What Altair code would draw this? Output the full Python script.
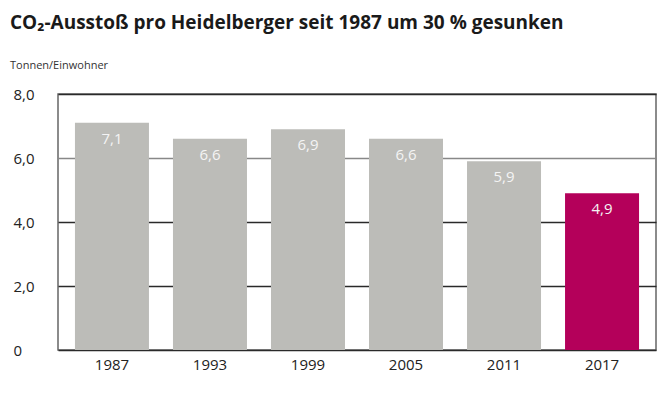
import altair as alt
import pandas as pd

years = ["1987", "1993", "1999", "2005", "2011", "2017"]
values = [7.1, 6.6, 6.9, 6.6, 5.9, 4.9]
labels = ["7,1", "6,6", "6,9", "6,6", "5,9", "4,9"]
highlight = [False, False, False, False, False, True]
y_ticks = [0, 2, 4, 6, 8]

df = pd.DataFrame({"year": years, "value": values, "label": labels, "hl": highlight})

FONT = "Open Sans"

x = alt.X("year:N", sort=years, title=None,
          scale=alt.Scale(paddingInner=0.245, paddingOuter=0.173),
          axis=alt.Axis(labelAngle=0, labelFontSize=15, labelColor="#222",
                        labelPadding=7, ticks=False, domain=False, labelFont=FONT))
y = alt.Y("value:Q", title=None, scale=alt.Scale(domain=[0, 8], nice=False),
          axis=alt.Axis(values=y_ticks, labelAlign="left", labelPadding=45,
                        labelFontSize=15, labelColor="#222", labelFont=FONT,
                        ticks=False, domain=False, labelBaseline="middle",
                        labelExpr="datum.value == 0 ? '0' : replace(format(datum.value, '.1f'), '.', ',')",
                        grid=True, gridWidth=1.3,
                        gridColor={"condition": {"test": "datum.value == 6", "value": "#888"}, "value": "#2a2a2a"}))

bars = alt.Chart(df).mark_bar().encode(
    x=x, y=y,
    color=alt.condition("datum.hl", alt.value("#B4005A"), alt.value("#BCBCB8")),
)

text = alt.Chart(df).mark_text(baseline="top", dy=9, fontSize=15, font=FONT,
                               color="#f4f4f4").encode(
    x=alt.X("year:N", sort=years),
    y=alt.Y("value:Q"),
    text="label:N",
)

chart = alt.layer(bars, text).properties(
    width=598, height=256,
    autosize=alt.AutoSizeParams(type="none"),
    padding={"left": 50, "top": 86, "right": 1, "bottom": 30},
    title=alt.TitleParams(
        text="CO₂-Ausstoß pro Heidelberger seit 1987 um 30 % gesunken",
        subtitle="Tonnen/Einwohner",
        anchor="start", frame="group", dx=-48, offset=16,
        font=FONT, fontSize=19, fontWeight="bold", color="#1a1a1a",
        subtitleFont=FONT, subtitleFontSize=11, subtitleColor="#333",
        subtitlePadding=27,
    ),
).configure_view(stroke="#666", strokeWidth=1.5)

chart.save("out.html", embed_options={"renderer": "svg", "actions": False})
